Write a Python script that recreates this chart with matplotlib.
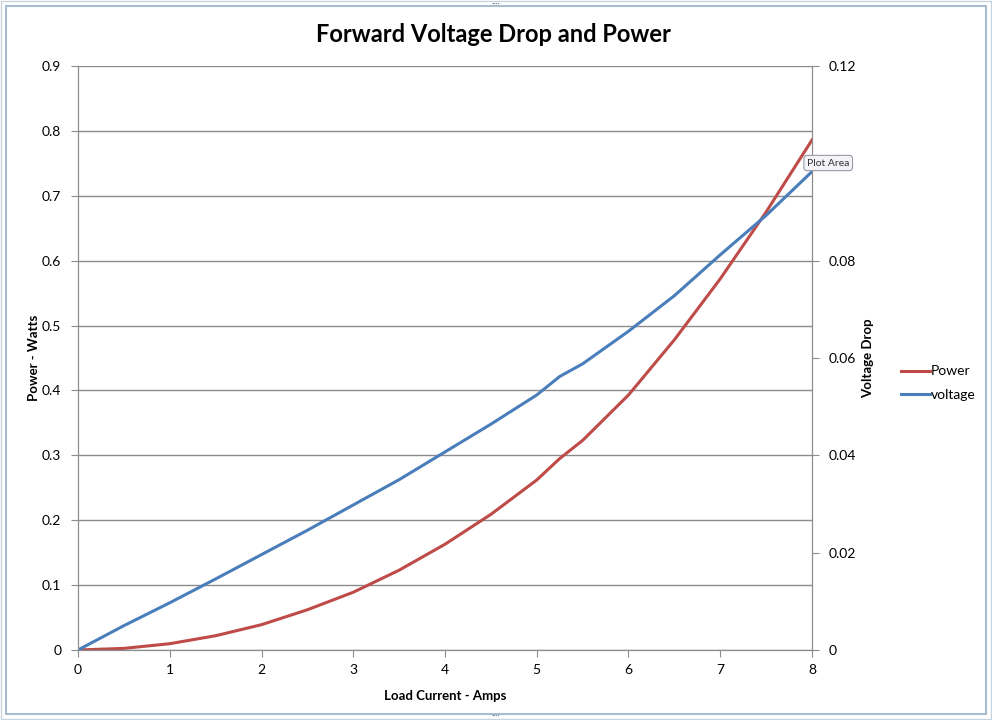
import matplotlib
matplotlib.use("Agg")
import matplotlib.pyplot as plt
from matplotlib.patches import Rectangle

plt.rcParams['font.family'] = ['Lato', 'DejaVu Sans']

current = [0, 0.5, 1, 1.5, 2, 2.5, 3, 3.5, 4, 4.5, 5, 5.25, 5.5, 6, 6.5, 7, 7.5, 8]
power = [0, 0.0025, 0.0097, 0.022, 0.039, 0.062, 0.089, 0.123, 0.163, 0.209,
         0.262, 0.295, 0.323, 0.393, 0.478, 0.572, 0.675, 0.786]
voltage = [0, 0.0050, 0.0097, 0.0146, 0.0196, 0.0246, 0.0298, 0.0350, 0.0407,
           0.0464, 0.0524, 0.0562, 0.0588, 0.0655, 0.0728, 0.0812, 0.0893, 0.0983]

title = "Forward Voltage Drop and Power"
x_label = "Load Current - Amps"
y_label_left = "Power - Watts"
y_label_right = "Voltage Drop"
series_names = ["Power", "voltage"]

red = '#BE4B48'
blue = '#4A7EBB'
grid_c = '#8c8c8c'

fig = plt.figure(figsize=(9.92, 7.2), dpi=100)
ax = fig.add_axes([78/992, 70/720, (812-78)/992, (650-66)/720])
ax2 = ax.twinx()

l1, = ax.plot(current, power, color=red, lw=2.2, label=series_names[0])
l2, = ax2.plot(current, voltage, color=blue, lw=2.2, label=series_names[1])

ax.set_xlim(0, 8)
ax.set_ylim(0, 0.9)
ax2.set_ylim(0, 0.12)
ax.set_xticks(range(0, 9))
ax.set_yticks([i/10 for i in range(10)])
ax.set_yticklabels(['0'] + [f'{i/10:.1f}' for i in range(1, 10)])
ax2.set_yticks([0, 0.02, 0.04, 0.06, 0.08, 0.1, 0.12])
# the 0.1 label is hidden under the "Plot Area" tooltip in the reference
ax2.set_yticklabels(['0', '0.02', '0.04', '0.06', '0.08', '', '0.12'])

ax.grid(axis='y', color=grid_c, lw=1)
ax.set_axisbelow(True)
for a in (ax, ax2):
    a.spines['top'].set_visible(False)
    for s in ('left', 'right', 'bottom'):
        a.spines[s].set_color(grid_c)
    a.tick_params(colors='black', labelsize=10, length=5, color=grid_c)
ax.tick_params(axis='x', pad=5)
ax.tick_params(axis='y', pad=7)
ax2.tick_params(axis='y', pad=7)

ax.set_xlabel(x_label, fontsize=9.5, fontweight='bold')
ax.set_ylabel(y_label_left, fontsize=9.5, fontweight='bold')
ax2.set_ylabel(y_label_right, fontsize=9.5, fontweight='bold')
ax.xaxis.set_label_coords((445-78)/734, -(690-650)/584)
ax.yaxis.set_label_coords(-(78-40)/734, 0.5)
ax2.yaxis.set_label_coords((862-78)/734, 0.5)

fig.text(0.497, 1 - 34/720, title, ha='center', va='center', fontsize=17, fontweight='bold')

fig.legend(handles=[l1, l2], loc='center left', bbox_to_anchor=(895/992, 1 - 383/720),
           frameon=False, fontsize=10, handlelength=2.1, handletextpad=0.1,
           labelspacing=0.8, borderaxespad=0)

# tooltip
fig.text(807/992, 1 - 163/720, "Plot Area", fontsize=7.5, color='#333333', ha='left', va='center',
         bbox=dict(boxstyle='round,pad=0.3', fc='#f4f4f8', ec='#9a9aa6', lw=0.8), zorder=10)

# chart border frame
fig.patches.append(Rectangle((6/992, 6/720), 980/992, 708/720, transform=fig.transFigure,
                             fill=False, ec='#a8bccf', lw=1.5))
fig.patches.append(Rectangle((1/992, 1/720), 990/992, 718/720, transform=fig.transFigure,
                             fill=False, ec='#c8d4e0', lw=1))
fig.text(0.5, 1 - 4/720, "····", ha='center', va='center', fontsize=6, color='#667788')
fig.text(0.5, 4/720, "····", ha='center', va='center', fontsize=6, color='#667788')

fig.savefig('out.png', dpi=100)
